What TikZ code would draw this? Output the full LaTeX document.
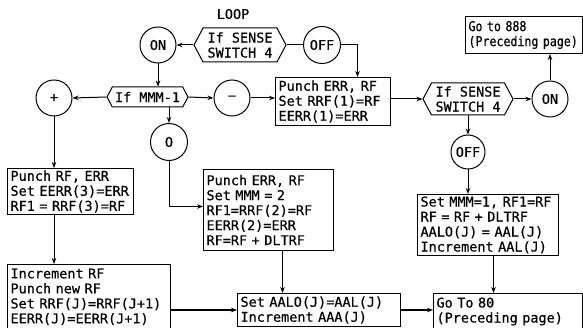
\documentclass[tikz,border=0pt]{standalone}
\usepackage{fontspec}
\newfontfamily\lettering[FakeBold=0.5]{DejaVu Sans Mono}
\newfontfamily\narrowlettering[FakeBold=0.5,FakeStretch=0.86]{DejaVu Sans Mono}
\usetikzlibrary{arrows.meta,shapes.symbols}
\newcommand\li[1]{\mbox{#1}}
\begin{document}
\begin{tikzpicture}[x=1pt,y=-1pt,
  every node/.style={font=\lettering\fontsize{13.5}{15}\selectfont},
  ln/.style={line width=1pt},
  box/.style={draw, ln, anchor=north west, align=left, inner xsep=3pt, inner ysep=2pt},
  circ/.style={draw, ln, circle, inner sep=0pt},
  hex/.style={draw, ln, signal, signal to=west and east, signal pointer angle=124, inner sep=0pt, align=center},
  arr/.style={ln, -{Stealth[length=6pt,width=4.5pt]}}]
\useasboundingbox (0,0) rectangle (583,328);
% label
\node (loop) at (233,14) {LOOP};
% decisions
\node[hex, minimum width=92pt, minimum height=34pt] (hexT) at (240,45) {If SENSE\\SWITCH 4};
\node[hex, minimum width=81pt, minimum height=20pt] (hexM) at (147.5,97) {If MMM-1};
\node[hex, minimum width=90pt, minimum height=32pt] (hexR) at (468,99) {If SENSE\\SWITCH 4};
% circles
\node[circ, minimum size=36pt] (onT) at (158,45) {ON};
\node[circ, minimum size=37pt] (offT) at (322,45) {OFF};
\node[circ, minimum size=36pt] (plus) at (54,98) {+};
\node[circ, minimum size=36pt] (minus) at (232,98) {\textminus};
\node[circ, minimum size=37pt] (zero) at (169,142) {O};
\node[circ, minimum size=36pt] (onR) at (550,99) {ON};
\node[circ, minimum size=34pt] (offR) at (468,152) {OFF};
% boxes
\node[box, text width=109pt, minimum height=48pt] (b1) at (275,77) {\li{Punch ERR, RF}\\\li{Set RRF(1)=RF}\\\li{EERR(1)=ERR}};
\node[box, text width=120pt, minimum height=42pt] (b2) at (7,168) {\li{Punch RF, ERR}\\\li{Set EERR(3)=ERR}\\\li{RF1 = RRF(3)=RF}};
\node[box, text width=124pt, minimum height=81pt] (b3) at (203,169) {\li{Punch ERR, RF}\\\li{Set MMM = 2}\\\li{RF1=RRF(2)=RF}\\\li{EERR(2)=ERR}\\\li{RF=RF + DLTRF}};
\node[box, text width=157pt, inner ysep=4pt] (b4) at (7,264) {\li{Increment RF}\\\li{Punch new RF}\\\li{Set RRF(J)=RRF(J+1)}\\\li{EERR(J)=EERR(J+1)}};
\node[box, text width=157pt, minimum height=33pt] (b5) at (237,293) {\li{Set AALO(J)=AAL(J)}\\\li{Increment AAA(J)}};
\node[box, text width=143pt, inner ysep=4pt] (b6) at (433,293) {\li{Go To 80}\\\li{(Preceding page)}};
\node[box, text width=135pt, minimum height=58pt] (b7) at (417,194) {\li{Set MMM=1, RF1=RF}\\\li{RF = RF + DLTRF}\\\li{AALO(J) = AAL(J)}\\\li{Increment AAL(J)}};
\node[box, text width=111pt, minimum height=37pt, font=\narrowlettering\fontsize{13.5}{15}\selectfont] (b8) at (465,16) {\li{Go to 888}\\\li{(Preceding page)}};
% connectors
\draw[arr] (hexT.west) -- (onT.east);
\draw[ln] (hexT.east) -- (offT.west);
\draw[arr] (offT.east) -| ([xshift=24.5pt]b1.north);
\draw[arr] (onT.south) -- (onT.south |- hexM.north);
\draw[arr] (hexM.west) -- (plus.east);
\draw[arr] (hexM.east) -- (minus.west);
\draw[arr] (minus.east) -- (minus.east -| b1.west);
\draw[arr] (zero.north |- hexM.south) -- (zero.north);
\draw[arr] (zero.south) |- ([yshift=3.5pt]b3.west);
\draw[arr] (plus.south) -- (plus.south |- b2.north);
\draw[arr] (plus.south |- b2.south) -- (plus.south |- b4.north);
\draw[arr] (b5.west -| b4.east) -- (b5.west);
\draw[arr] ([xshift=14pt]b3.south) -- ([xshift=14pt]b3.south |- b5.north);
\draw[arr] (b5.east) -- (b5.east -| b6.west);
\draw[arr] ([xshift=5.5pt]b7.south) -- ([xshift=5.5pt]b7.south |- b6.north);
\draw[arr] (b1.east |- hexR.west) -- (hexR.west);
\draw[arr] (hexR.east) -- (onR.west);
\draw[arr] (onR.north) -- (onR.north |- b8.south);
\draw[arr] (hexR.south) -- (offR.north);
\draw[arr] (offR.south) -- (offR.south |- b7.north);
\end{tikzpicture}
\end{document}
